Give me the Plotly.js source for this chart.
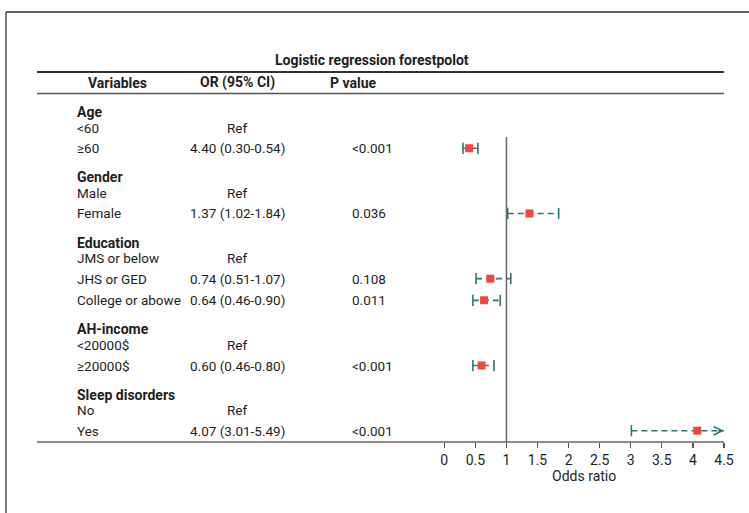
<!DOCTYPE html>
<html>
<head>
<meta charset="utf-8">
<script src="https://cdn.plot.ly/plotly-3.0.1.min.js"></script>
<style>html,body{margin:0;padding:0;background:#fff;}#chart{width:749px;height:513px;}</style>
</head>
<body>
<div id="chart"></div>
<script>
// ---- data ----
const groups = ['Age', 'Gender', 'Education', 'AH-income', 'Sleep disorders'];
const refLevels = ['<60', 'Male', 'JMS or below', '<20000$', 'No'];
const levels = ['≥60', 'Female', 'JHS or GED', 'College or abowe', '≥20000$', 'Yes'];
const levelGroup = [0, 1, 2, 2, 3, 4];
const orPlot = [0.40, 1.37, 0.74, 0.64, 0.60, 4.07];
const ciLow = [0.30, 1.02, 0.51, 0.46, 0.46, 3.01];
const ciHigh = [0.54, 1.84, 1.07, 0.90, 0.80, 5.49];
const orText = ['4.40 (0.30-0.54)', '1.37 (1.02-1.84)', '0.74 (0.51-1.07)', '0.64 (0.46-0.90)', '0.60 (0.46-0.80)', '4.07 (3.01-5.49)'];
const pText = ['<0.001', '0.036', '0.108', '0.011', '<0.001', '<0.001'];
const xTicks = [0, 0.5, 1, 1.5, 2, 2.5, 3, 3.5, 4, 4.5];
const xTickText = ['0', '0.5', '1', '1.5', '2', '2.5', '3', '3.5', '4', '4.5'];
const columnHeaders = ['Variables', 'OR (95% CI)', 'P value'];
const chartTitle = 'Logistic regression forestpolot';
const xTitle = 'Odds ratio';

// ---- layout helpers ----
const W = 749, H = 513;
const FONT = 'Roboto, "DejaVu Sans Condensed", sans-serif';
const FS = 13.5;
const px = v => v / W;
const py = v => 1 - v / H;
const XMAX = 4.5;

// row positions
const rows = [];
let r = 0;
for (let i = 0; i < levels.length; i++) {
  if (i > 0) r += (levelGroup[i] !== levelGroup[i - 1]) ? 3 : 1;
  rows.push(r);
}
const firstRowOfGroup = groups.map((g, gi) => rows[levelGroup.indexOf(gi)]);

const teal = '#2f7676';
const red = '#f0483a';
const textColor = '#1e1e1e';

// CI lines
const ciX = [], ciY = [];
const capX = [], capY = [];
for (let i = 0; i < levels.length; i++) {
  ciX.push(ciLow[i], Math.min(ciHigh[i], XMAX), null);
  ciY.push(rows[i], rows[i], null);
  capX.push(ciLow[i]); capY.push(rows[i]);
  if (ciHigh[i] <= XMAX) { capX.push(ciHigh[i]); capY.push(rows[i]); }
}

const traces = [
  {x: ciX, y: ciY, mode: 'lines', type: 'scatter', hoverinfo: 'skip',
   line: {color: teal, width: 1.6, dash: '6px,4px'}},
  {x: capX, y: capY, mode: 'markers', type: 'scatter', hoverinfo: 'skip',
   marker: {symbol: 'line-ns', size: 8, line: {color: teal, width: 1.6}}},
  {x: orPlot, y: rows, mode: 'markers', type: 'scatter',
   marker: {symbol: 'square', size: 8, color: red}}
];

const ann = [];
const addText = (x, y, text, opts) => ann.push(Object.assign({
  xref: 'paper', yref: 'y', x: x, y: y, text: text, showarrow: false,
  xanchor: 'left', yanchor: 'middle', font: {family: FONT, size: FS, color: textColor}
}, opts || {}));

// title and headers
ann.push({xref: 'paper', yref: 'paper', x: px(372), y: py(60), text: '<b>' + chartTitle + '</b>',
  showarrow: false, xanchor: 'center', yanchor: 'middle', font: {family: FONT, size: 14, color: textColor}});
const headerX = [117, 237, 353];
columnHeaders.forEach((h, i) => ann.push({xref: 'paper', yref: 'paper', x: px(headerX[i]), y: py(83),
  text: '<b>' + h + '</b>', showarrow: false, xanchor: 'center', yanchor: 'middle',
  font: {family: FONT, size: 14, color: textColor}}));

const colVar = px(75), colOR = px(237), colP = px(350);
groups.forEach((g, gi) => {
  const r0 = firstRowOfGroup[gi];
  addText(colVar, r0 - 1.66, '<b>' + g + '</b>', {font: {family: FONT, size: 14, color: textColor}});
  addText(colVar, r0 - 0.94, refLevels[gi]);
  addText(colOR, r0 - 0.94, 'Ref', {xanchor: 'center'});
});
levels.forEach((l, i) => {
  addText(colVar, rows[i], l);
  addText(colOR, rows[i], orText[i], {xanchor: 'center'});
  addText(colP, rows[i], pText[i]);
});

// arrow for truncated CI
levels.forEach((l, i) => {
  if (ciHigh[i] > XMAX) {
    ann.push({xref: 'x', yref: 'y', x: XMAX, y: rows[i], ax: -7, ay: 0, text: '',
      showarrow: true, arrowhead: 5, arrowsize: 1.2, arrowwidth: 1.4, arrowcolor: teal, standoff: 0});
  }
});

// y scale: row 0 at pixel 148.3, row 13 at 430.7
const rowPx = (430.7 - 148.3) / 13;
const yTop = -148.3 / rowPx, yBot = (H - 148.3) / rowPx;

const shapes = [
  // frame
  {type: 'line', xref: 'paper', yref: 'paper', x0: px(6), x1: px(6), y0: py(12), y1: py(H), line: {color: '#333', width: 1.3}},
  {type: 'line', xref: 'paper', yref: 'paper', x0: px(6), x1: 1, y0: py(12), y1: py(12), line: {color: '#333', width: 1.3}},
  // table rules
  {type: 'line', xref: 'paper', yref: 'paper', x0: px(37), x1: px(724), y0: py(72), y1: py(72), line: {color: '#333', width: 2}},
  {type: 'line', xref: 'paper', yref: 'paper', x0: px(37), x1: px(724), y0: py(93.5), y1: py(93.5), line: {color: '#555', width: 1.5}},
  {type: 'line', xref: 'paper', yref: 'paper', x0: px(37), x1: px(724), y0: py(442), y1: py(442), line: {color: '#666', width: 1.5}},
  // reference line at OR = 1
  {type: 'line', xref: 'x', yref: 'paper', x0: 1, x1: 1, y0: py(442), y1: py(137), line: {color: '#666', width: 1.5}}
];

const layout = {
  width: W, height: H,
  margin: {l: 0, r: 0, t: 0, b: 0},
  paper_bgcolor: '#fff', plot_bgcolor: 'rgba(0,0,0,0)',
  showlegend: false,
  xaxis: {
    domain: [px(444.3), px(724)], range: [0, XMAX], anchor: 'free', position: py(442),
    tickvals: xTicks, ticktext: xTickText, ticks: 'outside', ticklen: 5, tickwidth: 1.2, tickcolor: '#555',
    showgrid: false, zeroline: false, showline: false,
    tickfont: {family: FONT, size: 14, color: textColor},
    title: {text: xTitle, font: {family: FONT, size: 14, color: textColor}, standoff: 3},
    fixedrange: true
  },
  yaxis: {domain: [0, 1], range: [yBot, yTop], visible: false, fixedrange: true},
  annotations: ann,
  shapes: shapes
};

Plotly.newPlot('chart', traces, layout, {displayModeBar: false, staticPlot: true});
</script>
</body>
</html>
